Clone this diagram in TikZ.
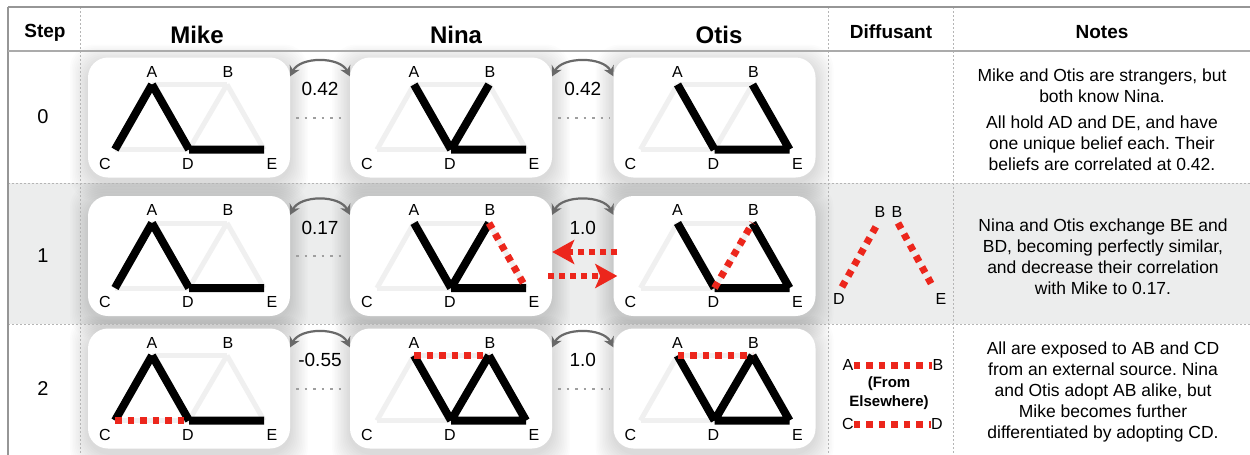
\documentclass[tikz,border=0pt]{standalone}
\usepackage{fontspec}
\setmainfont{Liberation Sans}
\usetikzlibrary{arrows.meta,positioning,calc}
\definecolor{beliefred}{RGB}{236,38,28}
\definecolor{ghostgray}{RGB}{240,240,240}
\definecolor{rowgray}{RGB}{236,237,237}
\definecolor{corrgray}{RGB}{105,105,105}
\definecolor{rulegray}{RGB}{150,150,150}
\tikzset{
    card/.style={
        rectangle,
        rounded corners=20pt,
        fill=white,
        minimum width=202pt,
        minimum height=120pt,
        inner sep=0pt
    },
    cardshadow/.style={
        fill=black,
        opacity=0.013,
        rounded corners=24pt
    },
    ghost/.style={draw=ghostgray, line width=5pt},
    held/.style={draw=black, line width=8pt},
    spread/.style={draw=beliefred, line width=7pt, dash pattern=on 6.5pt off 6pt},
    vlabel/.style={font=\fontsize{16}{16}\selectfont, inner sep=0pt}
}

% one card: name, x, y
\newcommand{\beliefcard}[3]{%
    \foreach \s in {1.5,3,...,18}
        \fill[cardshadow] ({#2-101-\s},{#3-60-\s+5}) rectangle ({#2+101+\s},{#3+60+\s+5});
    \node[card] (#1) at (#2,#3) {};
    \coordinate (#1A) at ([shift={(-37,-33)}]#1.center);
    \coordinate (#1B) at ([shift={(38,-33)}]#1.center);
    \coordinate (#1C) at ([shift={(-74,32)}]#1.center);
    \coordinate (#1D) at ([shift={(0,32)}]#1.center);
    \coordinate (#1E) at ([shift={(75,32)}]#1.center);
    \node[vlabel] (#1-A) at ([shift={(-37,-46)}]#1.center) {A};
    \node[vlabel] (#1-B) at ([shift={(39,-46)}]#1.center) {B};
    \node[vlabel] (#1-C) at ([shift={(-84,46)}]#1.center) {C};
    \node[vlabel] (#1-D) at ([shift={(-1,46)}]#1.center) {D};
    \node[vlabel] (#1-E) at ([shift={(83,46)}]#1.center) {E};
    \foreach \u/\v in {A/B,A/C,A/D,B/D,B/E,C/D,D/E}
        \draw[ghost] (#1\u) -- (#1\v);
}

\begin{document}
\frenchspacing
\begin{tikzpicture}[x=1pt, y=-1pt, >=Stealth]

    % Estilos locais
    \tikzset{
        colhead/.style={font=\bfseries\fontsize{19}{19}\selectfont},
        namehead/.style={font=\bfseries\fontsize{24}{24}\selectfont},
        stepnum/.style={font=\fontsize{20}{20}\selectfont},
        corr/.style={draw=corrgray, line width=2.2pt, {Stealth[length=10pt,width=11pt]}-{Stealth[length=10pt,width=11pt]}},
        corrlabel/.style={font=\fontsize{19}{19}\selectfont, inner sep=1pt},
        tie/.style={draw=gray!75, line width=2pt, dash pattern=on 2.5pt off 6pt},
        swap/.style={spread, line width=6pt, dash pattern=on 6pt off 5pt, -{Stealth[length=22pt,width=24pt,inset=5pt]}},
        note/.style={align=center, font=\fontsize{17.5}{21}\selectfont},
        grid/.style={draw=rulegray!70, line width=0.8pt, dash pattern=on 2pt off 2pt}
    }

    \useasboundingbox (0,0) rectangle (1250,455);

    % Fundo da linha 1
    \fill[rowgray] (8,183) rectangle (1250,324);

    % Linha 0
    \beliefcard{M0}{189}{117.5}
    \beliefcard{N0}{451}{117.5}
    \beliefcard{O0}{714.5}{117.5}
    \draw[held] (M0A) -- (M0C) (M0A) -- (M0D) (M0D) -- (M0E);
    \draw[held] (N0A) -- (N0D) (N0B) -- (N0D) (N0D) -- (N0E);
    \draw[held] (O0A) -- (O0D) (O0B) -- (O0E) (O0D) -- (O0E);

    % Linha 1
    \beliefcard{M1}{189}{256}
    \beliefcard{N1}{451}{256}
    \beliefcard{O1}{714.5}{256}
    \draw[held] (M1A) -- (M1C) (M1A) -- (M1D) (M1D) -- (M1E);
    \draw[held] (N1A) -- (N1D) (N1B) -- (N1D) (N1D) -- (N1E);
    \draw[spread] (N1B) -- (N1E);
    \draw[held] (O1A) -- (O1D) (O1B) -- (O1E) (O1D) -- (O1E);
    \draw[spread] (O1D) -- (O1B);

    % Linha 2
    \beliefcard{M2}{189}{388.5}
    \beliefcard{N2}{451}{388.5}
    \beliefcard{O2}{714.5}{388.5}
    \draw[held] (M2A) -- (M2C) (M2A) -- (M2D) (M2D) -- (M2E);
    \draw[spread] (M2C) -- (M2D);
    \draw[held] (N2A) -- (N2D) (N2B) -- (N2D) (N2B) -- (N2E) (N2D) -- (N2E);
    \draw[spread] (N2A) -- (N2B);
    \draw[held] (O2A) -- (O2D) (O2B) -- (O2D) (O2B) -- (O2E) (O2D) -- (O2E);
    \draw[spread] (O2A) -- (O2B);

    % Grade da tabela
    \draw[grid] (8,183) -- (1250,183) (8,324) -- (1250,324);
    \draw[grid] (80,7) -- (80,455) (828,7) -- (828,455) (953,7) -- (953,455);
    \draw[draw=rulegray, line width=1.5pt] (8,7) -- (1250,7) (8,7) -- (8,455);
    \draw[draw=rulegray!80, line width=2pt] (8,51) -- (1250,51);

    % Cabecalho
    \node[colhead] (hStep) at (45,33) {Step};
    \node[namehead] (hMike) at (197,35) {Mike};
    \node[namehead] (hNina) at (456,35) {Nina};
    \node[namehead] (hOtis) at (719,35) {Otis};
    \node[colhead] (hDiff) at (891,32) {Diffusant};
    \node[colhead] (hNotes) at (1102,32) {Notes};

    \node[stepnum] (s0) at (43,117) {0};
    \node[stepnum] (s1) at (43,256) {1};
    \node[stepnum] (s2) at (43,389) {2};

    % Correlacoes
    \foreach \r/\a/\b in {0/0.42/0.42, 1/0.17/1.0, 2/-0.55/1.0} {
        \draw[corr] ([yshift=-19pt]M\r.north east) .. controls +(10,-20) and +(-10,-20) .. ([yshift=-19pt]N\r.north west);
        \draw[corr] ([yshift=-19pt]N\r.north east) .. controls +(10,-20) and +(-10,-20) .. ([yshift=-19pt]O\r.north west);
        \node[corrlabel] (c\r mn) at ([shift={(0,32)}]$(M\r.north east)!0.5!(N\r.north west)$) {\a};
        \node[corrlabel] (c\r no) at ([shift={(0,32)}]$(N\r.north east)!0.5!(O\r.north west)$) {\b};
        \draw[tie] ([xshift=6pt]M\r.east) -- ([xshift=-4pt]N\r.west);
    }
    \draw[tie] ([xshift=6pt]N0.east) -- ([xshift=-4pt]O0.west);
    \draw[tie] ([xshift=6pt]N2.east) -- ([xshift=-4pt]O2.west);

    % Troca entre Nina e Otis
    \draw[swap] ([shift={(4,-4)}]O1.west) -- ([shift={(0,-4)}]N1.east);
    \draw[swap] ([shift={(-4,20)}]N1.east) -- ([shift={(4,20)}]O1.west);

    % Difusante
    \coordinate (d1D) at (842,287);
    \coordinate (d1B) at (878,223);
    \coordinate (d1Bb) at (898,223);
    \coordinate (d1E) at (933,287);
    \draw[spread] (d1D) -- (d1B) (d1Bb) -- (d1E);
    \node[vlabel] (d1-B) at (880,212) {B};
    \node[vlabel] (d1-Bb) at (897,212) {B};
    \node[vlabel] (d1-D) at (839,299) {D};
    \node[vlabel] (d1-E) at (941,299) {E};

    \node[vlabel] (d2-A) at (848,365) {A};
    \node[vlabel] (d2-B) at (938,365) {B};
    \node[vlabel] (d2-C) at (848,424) {C};
    \node[vlabel] (d2-D) at (937,424) {D};
    \draw[spread] (d2-A.east) -- (d2-B.west) (d2-C.east) -- (d2-D.west);
    \node[align=center, font=\bfseries\fontsize{15}{19}\selectfont] (d2src) at (889,393) {(From\\Elsewhere)};

    % Notas
    \node[note] (n0) at (1102,120) {Mike and Otis are strangers, but\\both know Nina.\\[5pt]All hold AD and DE, and have\\one unique belief each. Their\\beliefs are correlated at 0.42.};
    \node[note] (n1) at (1103,256.5) {Nina and Otis exchange BE and\\BD, becoming perfectly similar,\\and decrease their correlation\\with Mike to 0.17.};
    \node[note] (n2) at (1103,392) {All are exposed to AB and CD\\from an external source. Nina\\and Otis adopt AB alike, but\\Mike becomes further\\differentiated by adopting CD.};

\end{tikzpicture}
\end{document}
